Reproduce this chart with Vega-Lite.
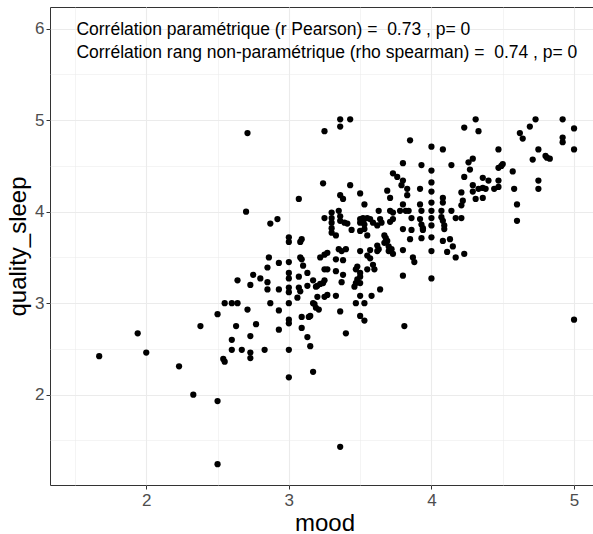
{
  "$schema": "https://vega.github.io/schema/vega-lite/v6.json",
  "width": 549,
  "height": 478,
  "autosize": "none",
  "padding": {"left": 50, "top": 7, "right": 0, "bottom": 49},
  "background": "white",
  "config": {
    "font": "Liberation Sans",
    "view": {"stroke": "#333333", "strokeWidth": 1}
  },
  "datasets": {
    "pts": [
      {"mood":3.36,"quality_sleep":5.01},{"mood":3.36,"quality_sleep":4.93},{"mood":3.43,"quality_sleep":5.01},{"mood":3.25,"quality_sleep":4.88},
      {"mood":3.85,"quality_sleep":4.78},{"mood":4.00,"quality_sleep":4.71},{"mood":4.08,"quality_sleep":4.68},{"mood":4.23,"quality_sleep":4.92},
      {"mood":4.31,"quality_sleep":5.01},{"mood":4.33,"quality_sleep":4.88},{"mood":4.47,"quality_sleep":4.68},{"mood":4.62,"quality_sleep":4.86},
      {"mood":4.64,"quality_sleep":4.80},{"mood":4.69,"quality_sleep":4.93},{"mood":4.73,"quality_sleep":5.01},{"mood":4.92,"quality_sleep":5.01},
      {"mood":5.00,"quality_sleep":4.91},{"mood":4.92,"quality_sleep":4.81},{"mood":4.92,"quality_sleep":4.76},{"mood":5.00,"quality_sleep":4.68},
      {"mood":4.75,"quality_sleep":4.68},{"mood":4.71,"quality_sleep":4.57},{"mood":4.80,"quality_sleep":4.61},{"mood":4.81,"quality_sleep":4.59},
      {"mood":4.83,"quality_sleep":4.58},{"mood":3.80,"quality_sleep":4.53},{"mood":3.93,"quality_sleep":4.51},{"mood":4.00,"quality_sleep":4.45},
      {"mood":4.14,"quality_sleep":4.51},{"mood":4.26,"quality_sleep":4.54},{"mood":4.29,"quality_sleep":4.58},{"mood":4.27,"quality_sleep":4.46},
      {"mood":4.47,"quality_sleep":4.48},{"mood":4.49,"quality_sleep":4.50},{"mood":4.50,"quality_sleep":4.52},{"mood":4.57,"quality_sleep":4.44},
      {"mood":4.23,"quality_sleep":4.38},{"mood":3.73,"quality_sleep":4.42},{"mood":3.76,"quality_sleep":4.38},{"mood":3.80,"quality_sleep":4.34},
      {"mood":3.79,"quality_sleep":4.29},{"mood":3.24,"quality_sleep":4.31},{"mood":3.43,"quality_sleep":4.29},{"mood":3.50,"quality_sleep":4.20},
      {"mood":3.36,"quality_sleep":4.18},{"mood":3.38,"quality_sleep":4.14},{"mood":3.69,"quality_sleep":4.23},{"mood":3.71,"quality_sleep":4.15},
      {"mood":3.83,"quality_sleep":4.25},{"mood":3.83,"quality_sleep":4.18},{"mood":3.92,"quality_sleep":4.25},{"mood":4.00,"quality_sleep":4.32},
      {"mood":4.00,"quality_sleep":4.22},{"mood":4.08,"quality_sleep":4.15},{"mood":4.08,"quality_sleep":4.10},{"mood":4.14,"quality_sleep":4.01},
      {"mood":4.36,"quality_sleep":4.37},{"mood":4.40,"quality_sleep":4.34},{"mood":4.47,"quality_sleep":4.34},{"mood":4.29,"quality_sleep":4.29},
      {"mood":4.21,"quality_sleep":4.21},{"mood":4.29,"quality_sleep":4.22},{"mood":4.33,"quality_sleep":4.25},{"mood":4.36,"quality_sleep":4.26},
      {"mood":4.38,"quality_sleep":4.25},{"mood":4.44,"quality_sleep":4.25},{"mood":4.47,"quality_sleep":4.27},{"mood":4.58,"quality_sleep":4.25},
      {"mood":4.75,"quality_sleep":4.34},{"mood":4.75,"quality_sleep":4.25},{"mood":4.31,"quality_sleep":4.14},{"mood":4.36,"quality_sleep":4.15},
      {"mood":4.22,"quality_sleep":4.12},{"mood":4.21,"quality_sleep":4.07},{"mood":4.60,"quality_sleep":4.08},{"mood":4.17,"quality_sleep":3.93},
      {"mood":4.21,"quality_sleep":3.93},{"mood":4.60,"quality_sleep":3.90},
      {"mood":3.80,"quality_sleep":4.08},{"mood":3.82,"quality_sleep":4.01},{"mood":3.84,"quality_sleep":4.01},{"mood":3.86,"quality_sleep":3.93},
      {"mood":3.92,"quality_sleep":4.08},{"mood":3.93,"quality_sleep":4.01},{"mood":3.92,"quality_sleep":3.92},{"mood":3.93,"quality_sleep":3.86},
      {"mood":3.94,"quality_sleep":3.82},{"mood":3.94,"quality_sleep":3.80},{"mood":4.00,"quality_sleep":4.10},{"mood":4.00,"quality_sleep":4.01},
      {"mood":4.00,"quality_sleep":3.93},{"mood":4.00,"quality_sleep":3.85},{"mood":4.07,"quality_sleep":4.01},{"mood":4.07,"quality_sleep":3.94},
      {"mood":4.08,"quality_sleep":3.90},{"mood":4.09,"quality_sleep":3.85},{"mood":4.09,"quality_sleep":3.81},{"mood":3.80,"quality_sleep":3.81},
      {"mood":3.86,"quality_sleep":3.80},{"mood":3.85,"quality_sleep":3.70},{"mood":3.93,"quality_sleep":3.71},{"mood":4.00,"quality_sleep":3.72},
      {"mood":4.00,"quality_sleep":3.57},{"mood":4.08,"quality_sleep":3.68},{"mood":4.13,"quality_sleep":3.70},{"mood":4.15,"quality_sleep":3.62},
      {"mood":4.11,"quality_sleep":3.56},{"mood":4.17,"quality_sleep":3.50},{"mood":4.23,"quality_sleep":3.54},{"mood":3.87,"quality_sleep":3.50},
      {"mood":3.88,"quality_sleep":3.45},{"mood":3.80,"quality_sleep":3.58},{"mood":4.00,"quality_sleep":3.27},{"mood":5.00,"quality_sleep":2.82},
      {"mood":3.53,"quality_sleep":4.08},{"mood":3.30,"quality_sleep":3.99},{"mood":3.25,"quality_sleep":3.93},{"mood":3.30,"quality_sleep":3.93},
      {"mood":3.30,"quality_sleep":3.88},{"mood":3.30,"quality_sleep":3.82},{"mood":3.30,"quality_sleep":3.77},{"mood":3.35,"quality_sleep":4.01},
      {"mood":3.36,"quality_sleep":3.95},{"mood":3.36,"quality_sleep":3.90},{"mood":3.39,"quality_sleep":3.88},{"mood":3.41,"quality_sleep":3.87},
      {"mood":3.44,"quality_sleep":3.80},{"mood":3.33,"quality_sleep":3.74},{"mood":3.50,"quality_sleep":3.92},{"mood":3.50,"quality_sleep":3.88},
      {"mood":3.50,"quality_sleep":3.79},{"mood":3.52,"quality_sleep":3.93},{"mood":3.53,"quality_sleep":3.92},{"mood":3.55,"quality_sleep":3.93},
      {"mood":3.57,"quality_sleep":3.92},{"mood":3.59,"quality_sleep":3.88},{"mood":3.53,"quality_sleep":3.86},{"mood":3.53,"quality_sleep":3.81},
      {"mood":3.55,"quality_sleep":3.74},{"mood":3.63,"quality_sleep":4.01},{"mood":3.64,"quality_sleep":3.92},{"mood":3.65,"quality_sleep":3.88},
      {"mood":3.62,"quality_sleep":3.85},{"mood":3.71,"quality_sleep":4.01},{"mood":3.73,"quality_sleep":3.99},{"mood":3.73,"quality_sleep":3.92},
      {"mood":3.71,"quality_sleep":3.89},{"mood":3.78,"quality_sleep":4.01},{"mood":3.67,"quality_sleep":3.74},{"mood":3.68,"quality_sleep":3.71},
      {"mood":3.69,"quality_sleep":3.68},{"mood":3.67,"quality_sleep":3.66},{"mood":3.70,"quality_sleep":3.62},{"mood":3.72,"quality_sleep":3.59},
      {"mood":3.73,"quality_sleep":3.54},{"mood":3.70,"quality_sleep":3.57},{"mood":3.62,"quality_sleep":3.63},{"mood":3.62,"quality_sleep":3.57},
      {"mood":3.63,"quality_sleep":3.59},{"mood":3.57,"quality_sleep":3.58},{"mood":3.55,"quality_sleep":3.52},{"mood":3.57,"quality_sleep":3.49},
      {"mood":3.50,"quality_sleep":3.57},{"mood":3.35,"quality_sleep":3.59},{"mood":3.37,"quality_sleep":3.57},{"mood":3.40,"quality_sleep":3.59},
      {"mood":3.25,"quality_sleep":3.53},{"mood":3.27,"quality_sleep":3.55},{"mood":3.33,"quality_sleep":3.48},{"mood":3.38,"quality_sleep":3.47},
      {"mood":3.25,"quality_sleep":3.37},{"mood":3.27,"quality_sleep":3.37},{"mood":3.33,"quality_sleep":3.35},{"mood":3.38,"quality_sleep":3.31},
      {"mood":3.48,"quality_sleep":3.40},{"mood":3.47,"quality_sleep":3.37},{"mood":3.50,"quality_sleep":3.33},{"mood":3.50,"quality_sleep":3.29},
      {"mood":3.48,"quality_sleep":3.26},{"mood":3.50,"quality_sleep":3.22},{"mood":3.47,"quality_sleep":3.22},{"mood":3.46,"quality_sleep":3.18},
      {"mood":3.55,"quality_sleep":3.37},{"mood":3.59,"quality_sleep":3.42},{"mood":3.60,"quality_sleep":3.37},{"mood":3.80,"quality_sleep":3.30},
      {"mood":3.64,"quality_sleep":3.15},{"mood":3.58,"quality_sleep":3.08},{"mood":3.50,"quality_sleep":3.08},{"mood":3.27,"quality_sleep":3.09},
      {"mood":3.25,"quality_sleep":3.07},{"mood":3.37,"quality_sleep":3.23},{"mood":3.33,"quality_sleep":3.08},
      {"mood":2.71,"quality_sleep":4.86},{"mood":3.07,"quality_sleep":4.14},{"mood":2.70,"quality_sleep":4.00},{"mood":2.87,"quality_sleep":3.87},
      {"mood":2.92,"quality_sleep":3.92},{"mood":3.00,"quality_sleep":3.72},{"mood":3.00,"quality_sleep":3.67},{"mood":3.08,"quality_sleep":3.67},
      {"mood":3.09,"quality_sleep":3.70},{"mood":2.86,"quality_sleep":3.50},{"mood":2.93,"quality_sleep":3.44},{"mood":3.00,"quality_sleep":3.45},
      {"mood":3.08,"quality_sleep":3.50},{"mood":3.09,"quality_sleep":3.48},{"mood":3.10,"quality_sleep":3.41},{"mood":2.85,"quality_sleep":3.39},
      {"mood":2.75,"quality_sleep":3.31},{"mood":2.80,"quality_sleep":3.27},{"mood":2.64,"quality_sleep":3.25},{"mood":2.73,"quality_sleep":3.20},
      {"mood":2.85,"quality_sleep":3.23},{"mood":2.85,"quality_sleep":3.15},{"mood":2.93,"quality_sleep":3.15},{"mood":3.00,"quality_sleep":3.33},
      {"mood":3.00,"quality_sleep":3.27},{"mood":3.07,"quality_sleep":3.29},{"mood":3.13,"quality_sleep":3.33},{"mood":3.00,"quality_sleep":3.17},
      {"mood":3.00,"quality_sleep":3.12},{"mood":3.07,"quality_sleep":3.17},{"mood":3.08,"quality_sleep":3.13},{"mood":3.06,"quality_sleep":3.06},
      {"mood":3.13,"quality_sleep":3.19},{"mood":3.17,"quality_sleep":3.25},{"mood":3.20,"quality_sleep":3.19},{"mood":3.19,"quality_sleep":3.18},
      {"mood":3.22,"quality_sleep":3.21},{"mood":3.24,"quality_sleep":3.22},{"mood":3.25,"quality_sleep":3.25},{"mood":3.20,"quality_sleep":3.07},
      {"mood":3.22,"quality_sleep":3.50},
      {"mood":2.55,"quality_sleep":3.00},{"mood":2.60,"quality_sleep":3.00},{"mood":2.64,"quality_sleep":3.00},{"mood":2.50,"quality_sleep":2.88},
      {"mood":2.71,"quality_sleep":2.93},{"mood":2.87,"quality_sleep":3.00},{"mood":2.93,"quality_sleep":2.92},{"mood":3.00,"quality_sleep":3.00},
      {"mood":3.09,"quality_sleep":2.85},{"mood":3.00,"quality_sleep":2.82},{"mood":3.00,"quality_sleep":2.78},{"mood":3.15,"quality_sleep":2.86},
      {"mood":3.14,"quality_sleep":2.85},{"mood":3.17,"quality_sleep":3.00},{"mood":3.18,"quality_sleep":2.99},{"mood":3.19,"quality_sleep":2.95},
      {"mood":3.21,"quality_sleep":2.93},{"mood":3.36,"quality_sleep":2.91},{"mood":3.40,"quality_sleep":2.67},{"mood":3.47,"quality_sleep":3.00},
      {"mood":3.53,"quality_sleep":3.00},{"mood":3.50,"quality_sleep":2.86},{"mood":3.53,"quality_sleep":2.81},{"mood":3.81,"quality_sleep":2.75},
      {"mood":3.36,"quality_sleep":1.43},{"mood":2.50,"quality_sleep":1.93},{"mood":2.50,"quality_sleep":1.24},{"mood":2.33,"quality_sleep":2.00},
      {"mood":2.23,"quality_sleep":2.31},{"mood":2.00,"quality_sleep":2.46},{"mood":1.94,"quality_sleep":2.67},{"mood":1.67,"quality_sleep":2.42},
      {"mood":2.38,"quality_sleep":2.75},{"mood":2.54,"quality_sleep":2.39},{"mood":2.55,"quality_sleep":2.36},{"mood":2.60,"quality_sleep":2.60},
      {"mood":2.60,"quality_sleep":2.49},{"mood":2.63,"quality_sleep":2.75},{"mood":2.67,"quality_sleep":2.49},{"mood":2.73,"quality_sleep":2.64},
      {"mood":2.73,"quality_sleep":2.46},{"mood":2.73,"quality_sleep":2.40},{"mood":2.77,"quality_sleep":2.77},{"mood":2.83,"quality_sleep":2.49},
      {"mood":2.93,"quality_sleep":2.71},{"mood":3.00,"quality_sleep":2.49},{"mood":3.00,"quality_sleep":2.19},{"mood":3.09,"quality_sleep":2.73},
      {"mood":3.13,"quality_sleep":2.63},{"mood":3.15,"quality_sleep":2.53},{"mood":3.17,"quality_sleep":2.25}
    ],
    "ann": [
      {"x": 1.51, "y": 5.99, "label": "Corrélation paramétrique (r Pearson) = \u00a00.73 , p= 0"},
      {"x": 1.51, "y": 5.74, "label": "Corrélation rang non-paramétrique (rho spearman) = \u00a00.74 , p= 0"}
    ]
  },
  "layer": [
    {
      "data": {"name": "pts"},
      "mark": {"type": "circle", "size": 39, "color": "black", "opacity": 1},
      "encoding": {
        "x": {
          "field": "mood", "type": "quantitative",
          "scale": {"domain": [1.325, 5.175], "nice": false, "zero": false},
          "axis": {
            "title": "mood", "values": [1.5, 2, 2.5, 3, 3.5, 4, 4.5, 5],
            "labelExpr": "datum.value % 1 === 0 ? format(datum.value, 'd') : ''",
            "domain": false, "grid": true, "gridColor": "#EBEBEB",
            "gridWidth": {"condition": {"test": "datum.value % 1 === 0", "value": 1.1}, "value": 0.55},
            "tickColor": "#333333", "tickSize": 4,
            "tickOpacity": {"condition": {"test": "datum.value % 1 === 0", "value": 1}, "value": 0},
            "labelFontSize": 17, "labelColor": "#4D4D4D", "labelPadding": 3,
            "titleFontSize": 24, "titleFontWeight": "normal", "titleColor": "black", "titlePadding": 3
          }
        },
        "y": {
          "field": "quality_sleep", "type": "quantitative",
          "scale": {"domain": [1.0125, 6.2375], "nice": false, "zero": false},
          "axis": {
            "title": "quality_sleep", "values": [1.5, 2, 2.5, 3, 3.5, 4, 4.5, 5, 5.5, 6],
            "labelExpr": "datum.value % 1 === 0 ? format(datum.value, 'd') : ''",
            "domain": false, "grid": true, "gridColor": "#EBEBEB",
            "gridWidth": {"condition": {"test": "datum.value % 1 === 0", "value": 1.1}, "value": 0.55},
            "tickColor": "#333333", "tickSize": 4,
            "tickOpacity": {"condition": {"test": "datum.value % 1 === 0", "value": 1}, "value": 0},
            "labelFontSize": 17, "labelColor": "#4D4D4D", "labelPadding": 2,
            "titleFontSize": 24, "titleFontWeight": "normal", "titleColor": "black", "titlePadding": 4
          }
        }
      }
    },
    {
      "data": {"name": "ann"},
      "mark": {"type": "text", "align": "left", "baseline": "middle", "fontSize": 17.5, "color": "black", "font": "Liberation Sans"},
      "encoding": {
        "x": {"field": "x", "type": "quantitative"},
        "y": {"field": "y", "type": "quantitative"},
        "text": {"field": "label"}
      }
    }
  ]
}
